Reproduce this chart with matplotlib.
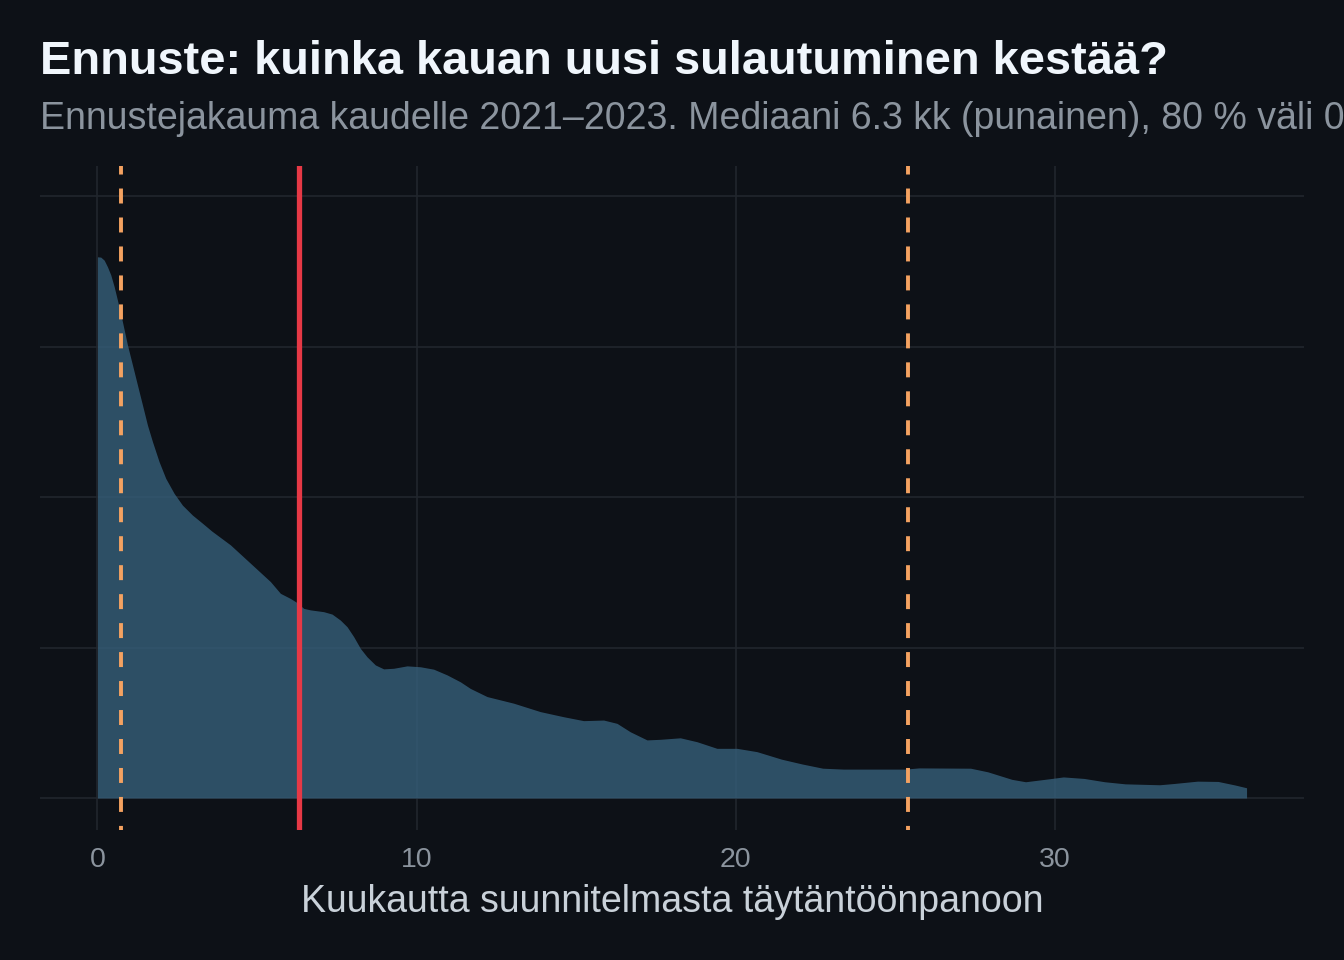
import matplotlib.pyplot as plt

# --- colours (dark theme) ---
BG = '#0d1117'
GRID = '#21262d'
FILL = '#365f7a'
RED = '#e63946'
ORANGE = '#f4a261'

# --- data ---
months = [0.0, 0.103, 0.210, 0.313, 0.417, 0.523, 0.626, 0.783, 0.940, 1.096,
          1.253, 1.409, 1.566, 1.723, 1.932, 2.139, 2.402, 2.662, 2.975, 3.288,
          3.580, 4.165, 4.792, 5.418, 5.731, 6.044, 6.254, 6.461, 6.671, 7.087,
          7.350, 7.610, 7.820, 8.027, 8.237, 8.446, 8.707, 8.966, 9.280, 9.699,
          10.116, 10.532, 10.952, 11.369, 11.682, 12.205, 13.038, 13.874, 14.604, 15.230,
          15.857, 16.276, 16.693, 17.216, 17.632, 18.259, 18.782, 19.408, 20.034, 20.661,
          21.431, 22.077, 22.722, 23.370, 25.305, 25.737, 27.353, 27.892, 28.647, 29.076,
          29.831, 30.260, 30.908, 31.553, 32.198, 33.276, 33.708, 34.463, 35.108, 35.647,
          36.0]
density = [0.1798, 0.1797, 0.1787, 0.1765, 0.1738, 0.1699, 0.1654, 0.1582, 0.1505, 0.1439,
           0.1372, 0.1306, 0.1239, 0.1184, 0.1117, 0.1062, 0.1012, 0.0973, 0.0940, 0.0913,
           0.0887, 0.0841, 0.0780, 0.0719, 0.0680, 0.0663, 0.0649, 0.0630, 0.0625, 0.0619,
           0.0611, 0.0591, 0.0569, 0.0536, 0.0497, 0.0469, 0.0442, 0.0429, 0.0431, 0.0439,
           0.0436, 0.0428, 0.0409, 0.0386, 0.0364, 0.0337, 0.0315, 0.0287, 0.0270, 0.0257,
           0.0259, 0.0248, 0.0220, 0.0193, 0.0195, 0.0200, 0.0187, 0.0165, 0.0165, 0.0154,
           0.0129, 0.0113, 0.0099, 0.0096, 0.0096, 0.0100, 0.0099, 0.0087, 0.0062, 0.0054,
           0.0064, 0.0070, 0.0065, 0.0054, 0.0047, 0.0044, 0.0048, 0.0056, 0.0055, 0.0043,
           0.0034]

median = 6.3
interval = [0.75, 25.4]   # 80 % interval
x_ticks = [0, 10, 20, 30]
y_grid = [0.0, 0.05, 0.10, 0.15, 0.20]

title = 'Ennuste: kuinka kauan uusi sulautuminen kestää?'
subtitle = ('Ennustejakauma kaudelle 2021–2023. Mediaani 6.3 kk (punainen), '
            '80 % väli 0.8–25.4 kk (oranssi).')
x_label = 'Kuukautta suunnitelmasta täytäntöönpanoon'

plt.rcParams['font.family'] = ['Liberation Sans', 'DejaVu Sans']

fig = plt.figure(figsize=(13.44, 9.6), dpi=100, facecolor=BG)
ax = fig.add_axes([40 / 1344, 1 - 830 / 960, 1264 / 1344, 664 / 960])
ax.set_facecolor(BG)

ax.fill_between(months, density, 0, color=FILL, alpha=0.8, linewidth=0, zorder=2)

ax.axvline(median, color=RED, linewidth=3.8, zorder=4)
for v in interval:
    ax.axvline(v, color=ORANGE, linewidth=2.8, linestyle=(2.8, (3.85, 3.6)), zorder=3)

ax.set_xlim(-1.8, 37.8)
ax.set_ylim(-0.01063, 0.20997)
ax.set_xticks(x_ticks)
ax.set_xticklabels([str(t) for t in x_ticks])
ax.set_yticks(y_grid)
ax.set_yticklabels([])
ax.grid(True, color=GRID, linewidth=1.2, zorder=1)
ax.set_axisbelow(True)
for s in ax.spines.values():
    s.set_visible(False)
ax.tick_params(axis='both', length=0, colors='#8b949e', labelsize=20.5, pad=12)

ax.set_xlabel(x_label, color='#c9d1d9', fontsize=27)
ax.xaxis.label.set_va('baseline')
ax.xaxis.set_label_coords(0.5, (830 - 912) / 664)

fig.text(40 / 1344, 1 - 73.5 / 960, title, color='#f0f6fc', fontsize=33.8,
         fontweight='bold', va='baseline', ha='left')
fig.text(40 / 1344, 1 - 129 / 960, subtitle, color='#8b949e', fontsize=27,
         va='baseline', ha='left')

fig.savefig('out.png', dpi=100, facecolor=BG)
